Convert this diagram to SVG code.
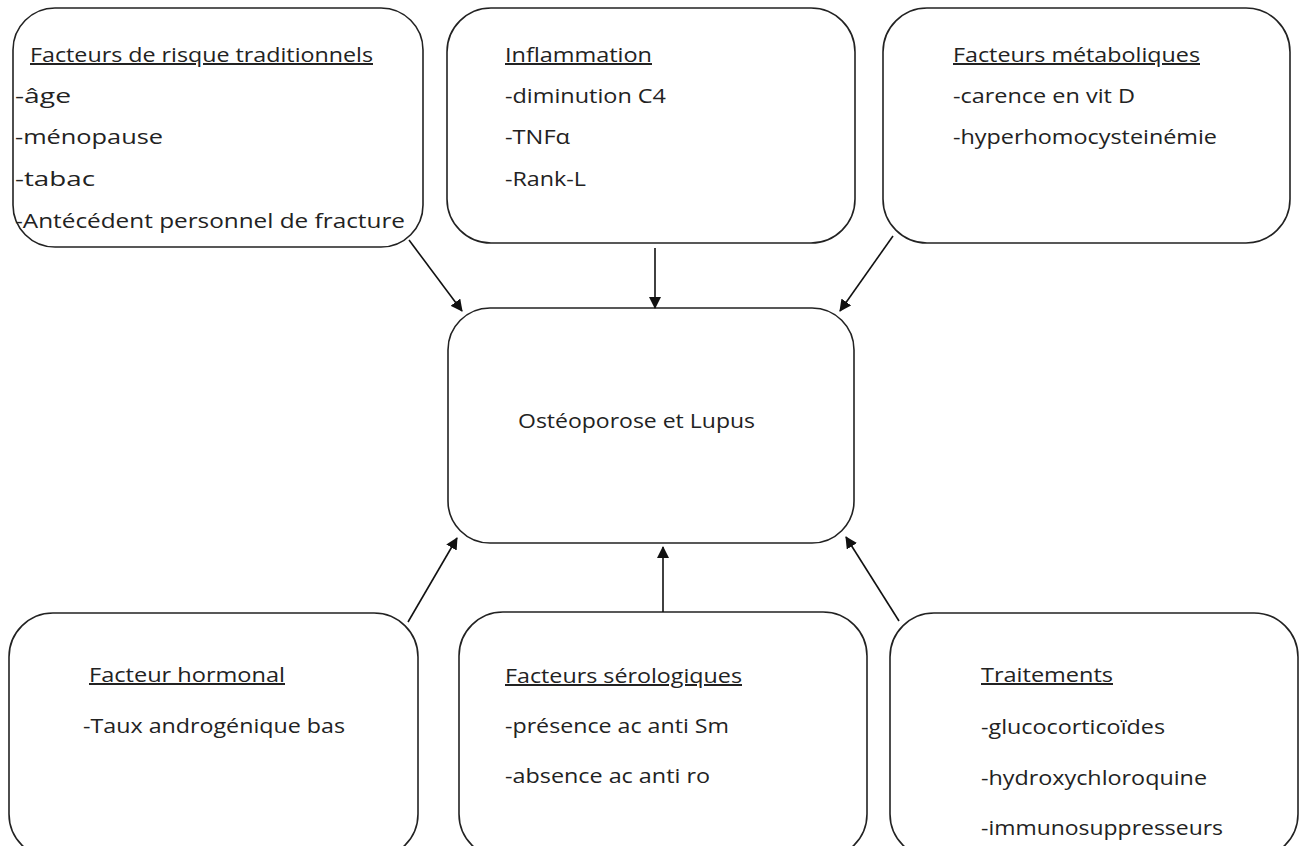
<svg xmlns="http://www.w3.org/2000/svg" width="1305" height="846" viewBox="0 0 1305 846">
<defs>
<style>
.box{fill:#fff;stroke:#222;stroke-width:1.6}
.t{font-family:"Open Sans","DejaVu Sans",sans-serif;font-size:20px;fill:#222}
.h{text-decoration:underline}
.c{stroke:#111;stroke-width:1.6;fill:none;marker-end:url(#ah)}
</style>
<marker id="ah" viewBox="0 0 12 12" refX="11" refY="6" markerWidth="12" markerHeight="12" markerUnits="userSpaceOnUse" orient="auto">
<path d="M0,0 L12,6 L0,12 z" fill="#111"/>
</marker>
</defs>
<rect width="1305" height="846" fill="#fff"/>
<g id="n1">
<rect class="box" x="13" y="8" width="410" height="239" rx="42"/>
<text class="t h" x="30" y="62" textLength="343" lengthAdjust="spacingAndGlyphs">Facteurs de risque traditionnels</text>
<text class="t" x="15" y="103" textLength="56" lengthAdjust="spacingAndGlyphs">-âge</text>
<text class="t" x="15" y="144" textLength="148" lengthAdjust="spacingAndGlyphs">-ménopause</text>
<text class="t" x="15" y="186" textLength="80" lengthAdjust="spacingAndGlyphs">-tabac</text>
<text class="t" x="15" y="228" textLength="390" lengthAdjust="spacingAndGlyphs">-Antécédent personnel de fracture</text>
</g>
<g id="n2">
<rect class="box" x="447" y="8" width="408" height="235" rx="44"/>
<text class="t h" x="505" y="62" textLength="147" lengthAdjust="spacingAndGlyphs">Inflammation</text>
<text class="t" x="505" y="103" textLength="161" lengthAdjust="spacingAndGlyphs">-diminution C4</text>
<text class="t" x="505" y="144" textLength="65" lengthAdjust="spacingAndGlyphs">-TNFα</text>
<text class="t" x="505" y="186" textLength="81" lengthAdjust="spacingAndGlyphs">-Rank-L</text>
</g>
<g id="n3">
<rect class="box" x="883" y="8" width="407" height="235" rx="44"/>
<text class="t h" x="953" y="62" textLength="247" lengthAdjust="spacingAndGlyphs">Facteurs métaboliques</text>
<text class="t" x="953" y="103" textLength="182" lengthAdjust="spacingAndGlyphs">-carence en vit D</text>
<text class="t" x="953" y="144" textLength="264" lengthAdjust="spacingAndGlyphs">-hyperhomocysteinémie</text>
</g>
<g id="center">
<rect class="box" x="448" y="308" width="406" height="235" rx="42"/>
<text class="t" x="518" y="428" textLength="237" lengthAdjust="spacingAndGlyphs">Ostéoporose et Lupus</text>
</g>
<g id="n4">
<rect class="box" x="9" y="613" width="409" height="245" rx="44"/>
<text class="t h" x="89" y="682" textLength="196" lengthAdjust="spacingAndGlyphs">Facteur hormonal</text>
<text class="t" x="83" y="733" textLength="262" lengthAdjust="spacingAndGlyphs">-Taux androgénique bas</text>
</g>
<g id="n5">
<rect class="box" x="459" y="612" width="408" height="246" rx="44"/>
<text class="t h" x="505" y="683" textLength="237" lengthAdjust="spacingAndGlyphs">Facteurs sérologiques</text>
<text class="t" x="505" y="733" textLength="224" lengthAdjust="spacingAndGlyphs">-présence ac anti Sm</text>
<text class="t" x="505" y="783" textLength="205" lengthAdjust="spacingAndGlyphs">-absence ac anti ro</text>
</g>
<g id="n6">
<rect class="box" x="890" y="613" width="408" height="245" rx="44"/>
<text class="t h" x="981" y="682" textLength="132" lengthAdjust="spacingAndGlyphs">Traitements</text>
<text class="t" x="981" y="734" textLength="184" lengthAdjust="spacingAndGlyphs">-glucocorticoïdes</text>
<text class="t" x="981" y="785" textLength="226" lengthAdjust="spacingAndGlyphs">-hydroxychloroquine</text>
<text class="t" x="981" y="835" textLength="242" lengthAdjust="spacingAndGlyphs">-immunosuppresseurs</text>
</g>
<g id="connectors">
<line class="c" x1="409" y1="240" x2="462" y2="311"/>
<line class="c" x1="655" y1="248" x2="655" y2="308"/>
<line class="c" x1="893" y1="236" x2="840" y2="311"/>
<line class="c" x1="408" y1="622" x2="457" y2="538"/>
<line class="c" x1="663" y1="612" x2="663" y2="547"/>
<line class="c" x1="899" y1="621" x2="846" y2="537"/>
</g>
</svg>
